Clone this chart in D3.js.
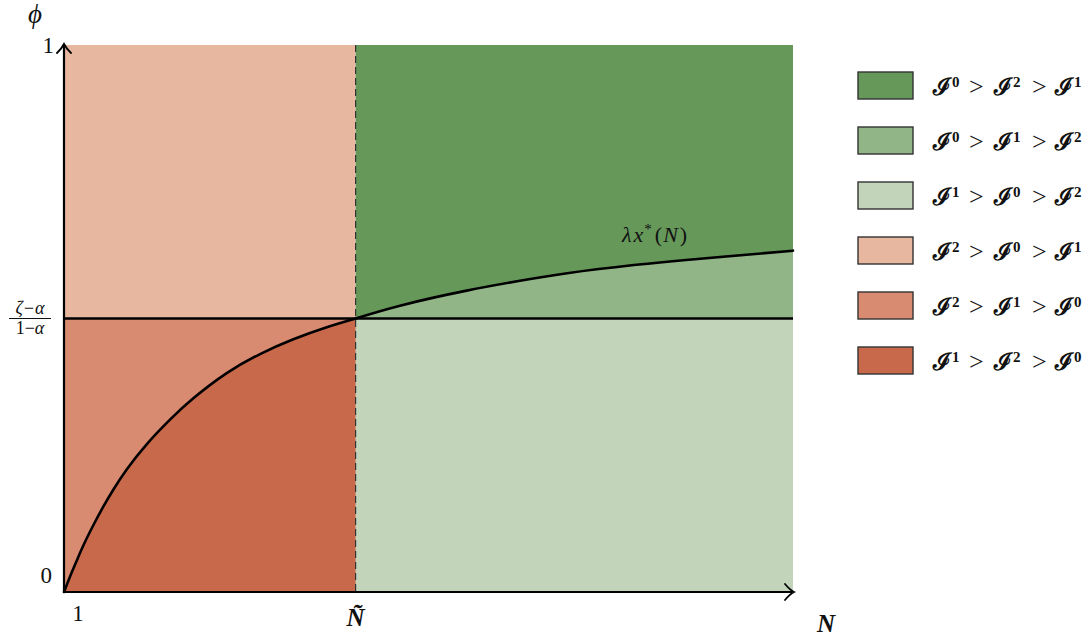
<!DOCTYPE html>
<html>
<head>
<meta charset="utf-8">
<script src="https://cdn.jsdelivr.net/npm/d3@7"></script>
<style>
	body { margin: 0; background: #fff; }
	text { font-family: "Liberation Serif", "DejaVu Serif", serif; fill: #111; }
</style>
</head>
<body>
<svg id="chart" width="1091" height="639"></svg>
<script>
/**
 * Data
 */
let nMin = 1;
let nMax = 11;
let nTilde = 5;
let threshold = 0.5;
let curveN = [1, 1.082, 1.174, 1.265, 1.402, 1.539, 1.676, 1.86, 2.134, 2.454, 2.774, 3.232, 3.689, 4.146, 4.604, 5, 5.609, 6.524, 7.438, 8.307, 9.532, 11];
let curvePhi = [0, 0.028, 0.057, 0.085, 0.122, 0.156, 0.187, 0.224, 0.27, 0.315, 0.354, 0.4, 0.435, 0.462, 0.484, 0.5, 0.5235, 0.551, 0.573, 0.59, 0.607, 0.624];
let legendOrders = [[0, 2, 1], [0, 1, 2], [1, 0, 2], [2, 0, 1], [2, 1, 0], [1, 2, 0]];
let regionColors = ["#66985a", "#91b587", "#c2d5bb", "#e7b7a0", "#d98b72", "#c9694b"];

let svg = d3.select("#chart");

let xScale = d3.scaleLinear().domain([nMin, nMax]).range([64, 793]);
let yScale = d3.scaleLinear().domain([0, 1]).range([592, 45]);

let curve = curveN.map(function(n, i) { return { n: n, phi: curvePhi[i] }; });
let leftPart = curve.filter(function(d) { return d.n <= nTilde; });
let rightPart = curve.filter(function(d) { return d.n >= nTilde; });

let plot = svg.append("g");

/**
 * Regions
 */
// background quadrants
plot.append("rect")
	.attr("x", xScale(nMin)).attr("y", yScale(1))
	.attr("width", xScale(nTilde) - xScale(nMin)).attr("height", yScale(threshold) - yScale(1))
	.attr("fill", regionColors[3]);
plot.append("rect")
	.attr("x", xScale(nMin)).attr("y", yScale(threshold))
	.attr("width", xScale(nTilde) - xScale(nMin)).attr("height", yScale(0) - yScale(threshold))
	.attr("fill", regionColors[4]);
plot.append("rect")
	.attr("x", xScale(nTilde)).attr("y", yScale(1))
	.attr("width", xScale(nMax) - xScale(nTilde)).attr("height", yScale(threshold) - yScale(1))
	.attr("fill", regionColors[0]);
plot.append("rect")
	.attr("x", xScale(nTilde)).attr("y", yScale(threshold))
	.attr("width", xScale(nMax) - xScale(nTilde)).attr("height", yScale(0) - yScale(threshold))
	.attr("fill", regionColors[2]);

// under the curve, left
plot.append("path")
	.datum(leftPart)
	.attr("fill", regionColors[5])
	.attr("d", d3.area()
		.x(function(d) { return xScale(d.n); })
		.y0(yScale(0))
		.y1(function(d) { return yScale(d.phi); })
		.curve(d3.curveNatural));

// between threshold and curve, right
plot.append("path")
	.datum(rightPart)
	.attr("fill", regionColors[1])
	.attr("d", d3.area()
		.x(function(d) { return xScale(d.n); })
		.y0(yScale(threshold))
		.y1(function(d) { return yScale(d.phi); })
		.curve(d3.curveNatural));

/**
 * Lines
 */
plot.append("line")
	.attr("x1", xScale(nTilde)).attr("x2", xScale(nTilde))
	.attr("y1", yScale(1)).attr("y2", yScale(0))
	.attr("stroke", "#333").attr("stroke-width", 1.2)
	.attr("stroke-dasharray", "7,4");

plot.append("line")
	.attr("x1", xScale(nMin)).attr("x2", xScale(nMax))
	.attr("y1", yScale(threshold)).attr("y2", yScale(threshold))
	.attr("stroke", "#000").attr("stroke-width", 2.6);

// the curve is drawn in two pieces so both sides meet at (nTilde, threshold)
[leftPart, rightPart].forEach(function(part) {
	plot.append("path")
		.datum(part)
		.attr("fill", "none")
		.attr("stroke", "#000")
		.attr("stroke-width", 2.6)
		.attr("stroke-linecap", "round")
		.attr("d", d3.line()
			.x(function(d) { return xScale(d.n); })
			.y(function(d) { return yScale(d.phi); })
			.curve(d3.curveNatural));
});

// axes with tikz-like arrow heads
let x0 = xScale(nMin), y0 = yScale(0), x1 = xScale(nMax), y1 = yScale(1);
plot.append("path")
	.attr("fill", "none").attr("stroke", "#000").attr("stroke-width", 2.2)
	.attr("d", "M" + x0 + "," + y0 + "V" + (y1 - 1) + "M" + x0 + "," + y0 + "H" + (x1 - 1));
plot.append("path")
	.attr("fill", "none").attr("stroke", "#000").attr("stroke-width", 1.8)
	.attr("stroke-linecap", "round")
	.attr("d", "M" + (x0 - 7) + "," + (y1 + 8) + "Q" + (x0 - 2) + "," + (y1 + 3) + " " + x0 + "," + (y1 - 1)
		+ "Q" + (x0 + 2) + "," + (y1 + 3) + " " + (x0 + 7) + "," + (y1 + 8)
		+ "M" + (x1 - 8) + "," + (y0 - 8) + "Q" + (x1 - 3) + "," + (y0 - 2) + " " + (x1 + 1) + "," + y0
		+ "Q" + (x1 - 3) + "," + (y0 + 2) + " " + (x1 - 8) + "," + (y0 + 8));

/**
 * Labels
 */
svg.append("text").attr("x", 35).attr("y", 23).attr("text-anchor", "middle")
	.style("font-size", "27px").style("font-style", "italic").text("ϕ");
svg.append("text").attr("x", 54).attr("y", yScale(1) + 8).attr("text-anchor", "end")
	.style("font-size", "23px").text("1");
svg.append("text").attr("x", 52).attr("y", yScale(0) - 9).attr("text-anchor", "end")
	.style("font-size", "23px").text("0");

// fraction label for the threshold
let frac = svg.append("g").attr("transform", "translate(30," + yScale(threshold) + ")");
frac.append("text").attr("y", -5).attr("text-anchor", "middle").style("font-size", "18px")
	.style("font-style", "italic").text("ζ−α");
frac.append("line").attr("x1", -21).attr("x2", 21).attr("y1", 0).attr("y2", 0)
	.attr("stroke", "#111").attr("stroke-width", 1);
frac.append("text").attr("y", 15).attr("text-anchor", "middle").style("font-size", "18px")
	.html('1−<tspan font-style="italic">α</tspan>');

svg.append("text").attr("x", xScale(nMin) + 14).attr("y", 621).attr("text-anchor", "middle")
	.style("font-size", "23px").text("1");
svg.append("text").attr("x", xScale(nTilde)).attr("y", 626).attr("text-anchor", "middle")
	.style("font-size", "25px").style("font-style", "italic").style("font-weight", "bold").text("Ñ");
svg.append("text").attr("x", 826).attr("y", 632).attr("text-anchor", "middle")
	.style("font-size", "25px").style("font-style", "italic").style("font-weight", "bold").text("N");

let curveLabel = svg.append("text").attr("x", 622).attr("y", 242).style("font-size", "22px");
curveLabel.append("tspan").style("font-style", "italic").text("λ");
curveLabel.append("tspan").attr("dx", 2).style("font-style", "italic").text("x");
curveLabel.append("tspan").attr("dx", 1).attr("dy", -8).style("font-size", "15px").text("*");
curveLabel.append("tspan").attr("dx", 3).attr("dy", 8).text("(");
curveLabel.append("tspan").attr("dx", 1).style("font-style", "italic").text("N");
curveLabel.append("tspan").attr("dx", 2).text(")");

/**
 * Legend
 */
let textLeft = 75;
let tokenX = [0, 61, 122];
let gtX = [36, 99];

let legend = svg.append("g").attr("transform", "translate(858,72)");
let rows = legend.selectAll("g")
	.data(legendOrders)
	.enter()
	.append("g")
	.attr("transform", function(d, i) { return "translate(0," + (i * 55) + ")"; });

rows.append("rect")
	.attr("width", 55).attr("height", 27)
	.attr("fill", function(d, i) { return regionColors[i]; })
	.attr("stroke", "#333").attr("stroke-width", 1.4);

rows.each(function(order) {
	let row = d3.select(this);
	order.forEach(function(k, j) {
		let t = row.append("text")
			.attr("x", textLeft + tokenX[j]).attr("y", 23)
			.style("font-size", "24px").style("font-weight", "bold");
		t.append("tspan").style("font-family", "'DejaVu Serif', serif").text("ℐ");
		t.append("tspan").attr("x", textLeft + tokenX[j] + 19).attr("dy", -8).style("font-size", "15px").text(k);
	});
	gtX.forEach(function(gx) {
		row.append("text").attr("x", textLeft + gx).attr("y", 23)
			.style("font-size", "26px").text(">");
	});
});
</script>
</body>
</html>
